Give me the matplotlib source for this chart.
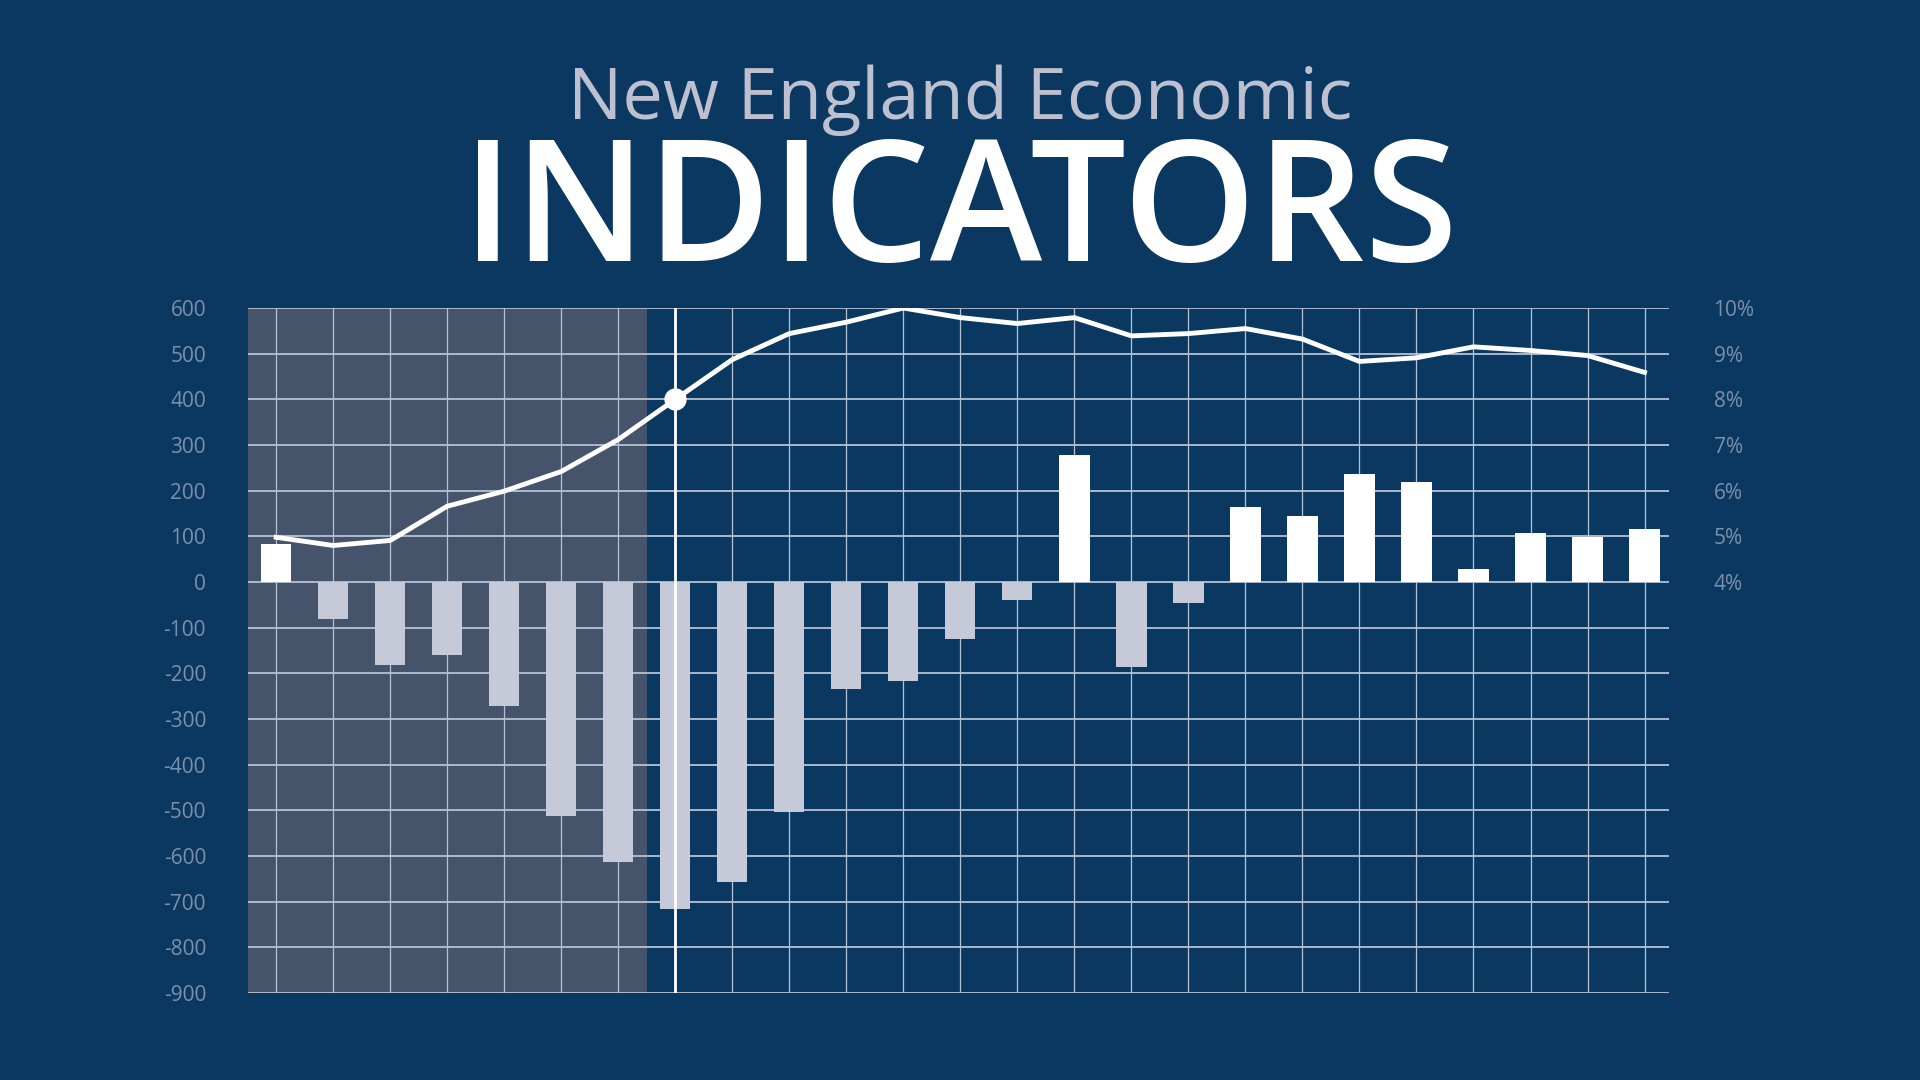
import matplotlib
matplotlib.use("Agg")
import matplotlib.pyplot as plt
import numpy as np

BG = "#0a3860"
SHADE = "#45546a"
GRID = "#b4c2d4"
TICK = "#7d90aa"
NEG = "#c6c9d7"
SUB = "#bcc0d0"

# monthly job change (bars, left axis) and unemployment rate (line, right axis)
job_change = [83, -82, -181, -159, -272, -513, -614, -716, -657, -503,
              -234, -217, -125, -39, 279, -186, -47, 164, 144, 237,
              219, 29, 107, 99, 117]
unemployment = [4.98, 4.80, 4.91, 5.66, 5.99, 6.42, 7.12, 8.00, 8.87, 9.44,
                9.69, 10.00, 9.79, 9.66, 9.79, 9.39, 9.44, 9.55, 9.32, 8.83,
                8.91, 9.15, 9.07, 8.96, 8.59]
left_ticks = list(range(-900, 601, 100))
right_ticks = [4, 5, 6, 7, 8, 9, 10]
shade_end = 6.5
highlight = 7

plt.rcParams["font.family"] = ["Open Sans", "DejaVu Sans"]

fig = plt.figure(figsize=(19.2, 10.8), dpi=100, facecolor=BG)
ax = fig.add_axes([0.129, 0.0805, 0.8693 - 0.129, 0.7148 - 0.0805])
ax.set_facecolor(BG)

x = np.arange(len(job_change))
ax.axvspan(-0.5, shade_end, color=SHADE, zorder=0, lw=0)

ax.set_xlim(-0.5, 24.43)
ax.set_ylim(-900, 600)
ax.set_yticks(left_ticks)
ax.set_yticklabels([str(v) for v in left_ticks])
ax.set_xticks(x)
ax.tick_params(axis="x", length=0, labelbottom=False)
ax.tick_params(axis="y", length=0, colors=TICK, labelsize=15, pad=30)
ax.grid(axis="y", color=GRID, lw=1.3, zorder=1)
ax.grid(axis="x", color=GRID, lw=0.9, zorder=1)
ax.set_axisbelow(True)
for s in ax.spines.values():
    s.set_visible(False)

colors = ["white" if v >= 0 else NEG for v in job_change]
ax.bar(x, job_change, width=0.53, color=colors, zorder=3, lw=0)
ax.axvline(highlight, color="white", lw=2, zorder=4)

ax2 = ax.twinx()
ax2.set_ylim(-5, 10)
ax2.set_yticks(right_ticks)
ax2.set_yticklabels([f"{v}%" for v in right_ticks])
ax2.tick_params(axis="y", length=0, colors=TICK, labelsize=15, pad=32)
for s in ax2.spines.values():
    s.set_visible(False)
ax2.plot(x, unemployment, color="white", lw=3.5, solid_joinstyle="round", zorder=5)
ax2.plot(highlight, unemployment[highlight], "o", color="white", ms=15, zorder=6)

fig.text(0.5, 0.89, "New England Economic", ha="center", va="baseline",
         color=SUB, fontsize=52, fontweight="normal")
fig.text(0.5, 0.7585, "INDICATORS", ha="center", va="baseline",
         color="white", fontsize=122, fontweight="semibold")

fig.savefig("out.png", dpi=100, facecolor=BG)
